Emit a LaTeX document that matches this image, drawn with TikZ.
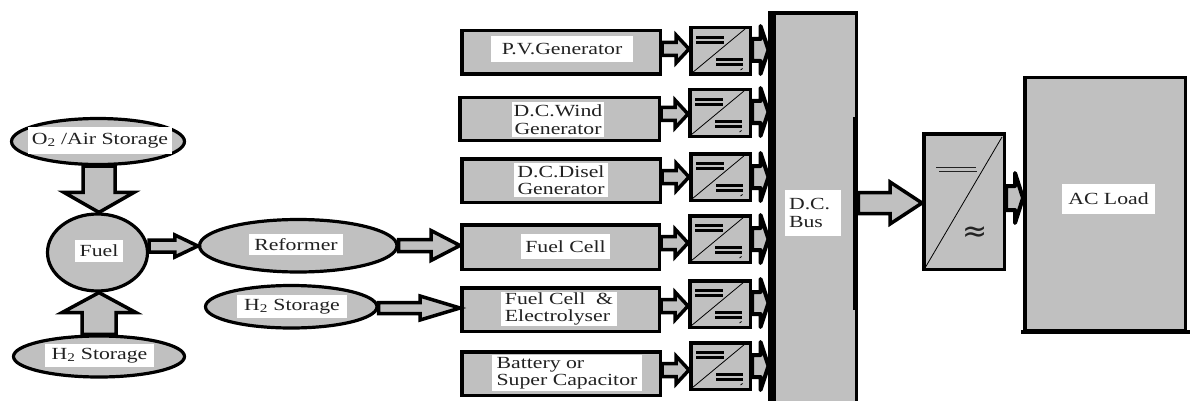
\documentclass[tikz,border=0pt]{standalone}
\usepackage{fontspec}
\setmainfont[FakeStretch=1.28]{Liberation Serif}
\newfontfamily\symfont{DejaVu Sans}
\usetikzlibrary{calc,shapes.geometric}
\definecolor{panel}{HTML}{C0C0C0}
\definecolor{ink}{HTML}{222222}
\tikzset{
  block/.style={draw=black,fill=panel,line width=3.5pt,inner sep=0pt,rectangle},
  oval/.style={draw=black,fill=panel,line width=3.2pt,inner sep=0pt,ellipse},
  tag/.style={fill=white,inner sep=0pt,text=ink,font=\fontsize{17}{17.5}\selectfont},
  fat/.style={draw=black,fill=panel,line width=3.5pt,line join=miter},
  stub/.style={line width=4pt,line join=round},
  bar/.style={draw=black,line width=2.6pt},
  thin/.style={draw=black,line width=0.8pt}
}
% corner-defined node: style, name, x1,y1,x2,y2, text
\newcommand\cnode[7]{\node[#1,minimum width={(#5-#3)*1pt},minimum height={(#6-#4)*1pt}] (#2) at ({(#3+#5)/2},{(#4+#6)/2}) {#7};}
% block arrow: extra style, from, to, half shaft, half head, head length
\newcommand\fatarrow[6][]{%
  \path #2 coordinate (arrA) #3 coordinate (arrB);
  \path ($(arrB)!#6pt!(arrA)$) coordinate (arrH);
  \draw[fat,#1] ($(arrA)!#4pt!90:(arrB)$) -- ($(arrH)!#4pt!90:(arrB)$) -- ($(arrH)!#5pt!90:(arrB)$) -- (arrB)
    -- ($(arrH)!#5pt!-90:(arrB)$) -- ($(arrH)!#4pt!-90:(arrB)$) -- ($(arrA)!#4pt!-90:(arrB)$) -- cycle;
}
% DC/DC converter: name, x1,y1,x2,y2 (outer)
\newcommand\converter[5]{%
  \pgfmathsetmacro\ax{#2+1.75}\pgfmathsetmacro\ay{#3+1.75}\pgfmathsetmacro\bx{#4-1.75}\pgfmathsetmacro\by{#5-1.75}
  \cnode{block}{#1}{\ax}{\ay}{\bx}{\by}{}
  \begin{scope}[shift={(#2,#3)}]
    \draw[thin] (3,47) -- (56,3);
    \draw[bar] (7,11.5) -- (35,11.5);
    \draw[bar] (7,16.5) -- (35,16.5);
    \draw[bar] (27,33.5) -- (54,33.5);
    \draw[bar] (27,38.5) -- (54,38.5);
    \draw[thin] (51.5,44) -- (53.5,42.5);
  \end{scope}
}
\begin{document}
\begin{tikzpicture}[x=1pt,y=-1pt]
\clip (0,0) rectangle (1190,401);
\useasboundingbox (0,0) rectangle (1190,401);

% left ovals
\cnode{oval}{oxy}{11.5}{118.5}{184.5}{164.5}{}
\cnode{oval}{fuel}{47.5}{214}{147.5}{291}{}
\cnode{oval}{hleft}{13.5}{336}{184.5}{377}{}
\cnode{oval}{reformer}{199.5}{219.5}{397}{272}{}
\cnode{oval}{hmid}{205.5}{285.5}{377}{328}{}

% source boxes
\cnode{block}{pv}{461.75}{30.75}{660.25}{74.25}{}
\cnode{block}{wind}{459.75}{97.75}{659.25}{140.25}{}
\cnode{block}{disel}{461.75}{158.75}{660.25}{202.25}{}
\cnode{block}{cell}{461.75}{224.75}{659.25}{269.25}{}
\cnode{block}{fce}{461.75}{287.75}{659.25}{331.25}{}
\cnode{block}{batt}{461.75}{351.75}{660.25}{395.25}{}

% converters
\converter{cpv}{689}{26}{752}{76}
\converter{cwind}{688}{88}{752}{138}
\converter{cdisel}{689}{152}{752}{202}
\converter{ccell}{688}{214}{752}{264}
\converter{cfce}{688}{279}{752}{329}
\converter{cbatt}{689}{341}{752}{391}

% output arrows end at the bus
\coordinate (busedge) at (768.5,0);
\fatarrow[stub]{(cpv.east |- 0,50)}{(busedge |- 0,50)}{11}{24}{8}
\fatarrow[stub]{(cwind.east |- 0,112)}{(busedge |- 0,112)}{11}{24}{8}
\fatarrow[stub]{(cdisel.east |- 0,177)}{(busedge |- 0,177)}{11}{24}{8}
\fatarrow[stub]{(ccell.east |- 0,239)}{(busedge |- 0,239)}{11}{24}{8}
\fatarrow[stub]{(cfce.east |- 0,303)}{(busedge |- 0,303)}{11}{24}{8}
\fatarrow[stub]{(cbatt.east |- 0,366)}{(busedge |- 0,366)}{11}{24}{8}

% bus
\cnode{block}{bus}{770}{13}{856.5}{412}{}
\fill[black] (768,11) rectangle (776,401);
\fill[black] (853,117) rectangle (857,310);

% inverter and load
\cnode{block}{inv}{923.75}{133.75}{1004.25}{269.25}{}
\draw[thin] (925,268) -- (1002,137);
\draw[ink,line width=0.8pt] (936,167) -- (976,167) (939,171) -- (977,171);
\node[text=ink,inner sep=0pt,font=\symfont\fontsize{30}{30}\selectfont] (wave) at (975,234) {≈};

\fatarrow{(bus.east |- 0,203)}{(inv.west |- 0,203)}{10.5}{21}{32}
\fatarrow[stub]{(inv.east |- 0,198)}{(1023,198)}{12}{25}{8}

\cnode{block}{load}{1024.75}{77.75}{1185.25}{331}{}
\fill[black] (1021,330) rectangle (1190,333.5);

% input arrows
\fatarrow{(pv.east |- 0,49)}{(cpv.west |- 0,49)}{6.5}{14}{13}
\fatarrow{(wind.east |- 0,114)}{(cwind.west |- 0,114)}{6.5}{14}{13}
\fatarrow{(disel.east |- 0,177)}{(cdisel.west |- 0,177)}{6.5}{14}{13}
\fatarrow{(cell.east |- 0,243)}{(ccell.west |- 0,243)}{6.5}{14}{13}
\fatarrow{(fce.east |- 0,306)}{(cfce.west |- 0,306)}{6.5}{14}{13}
\fatarrow{(batt.east |- 0,370)}{(cbatt.west |- 0,370)}{6.5}{14}{13}

% left arrows
\fatarrow{(99,0 |- oxy.south)}{(99,0 |- fuel.north)}{16}{35}{20}
\fatarrow{(99,0 |- hleft.north)}{(99,0 |- fuel.south)}{17}{37}{20}
\fatarrow{(fuel.east |- 0,246)}{(reformer.west |- 0,246)}{6}{11}{23}
\fatarrow{(reformer.east |- 0,245.5)}{(cell.west |- 0,245.5)}{6}{15}{29}
\fatarrow{(hmid.east |- 0,308)}{(fce.west |- 0,308)}{5.5}{12}{40}

% labels
\cnode{tag}{loxy}{28}{127}{172}{154}{O\textsubscript{2} /Air Storage}
\cnode{tag}{lfuel}{75}{240}{123}{262}{Fuel}
\cnode{tag}{lhleft}{45}{344}{154}{367}{H\textsubscript{2} Storage}
\cnode{tag}{lreformer}{249}{234}{343}{255}{Reformer}
\cnode{tag}{lhmid}{237}{295}{347}{318}{H\textsubscript{2} Storage}
\cnode{tag}{lpv}{491}{36}{633}{62}{P.V.Generator}
\cnode{tag,align=center}{lwind}{512}{102}{604}{137}{D.C.Wind\\Generator}
\cnode{tag,align=center}{ldisel}{514}{163}{608}{197}{D.C.Disel\\Generator}
\cnode{tag}{lcell}{521}{234}{610}{259}{Fuel Cell}
\cnode{tag,align=left}{lfce}{501}{292}{617}{326}{Fuel Cell~ \&\\Electrolyser}
\cnode{tag,align=left}{lbatt}{492}{355}{642}{391}{Battery or\\Super Capacitor}
\cnode{tag,align=left}{lbus}{785}{190}{841}{236}{D.C.\\Bus\hspace*{14pt}}
\cnode{tag}{lload}{1062}{184}{1155}{214}{AC Load}
\end{tikzpicture}
\end{document}
